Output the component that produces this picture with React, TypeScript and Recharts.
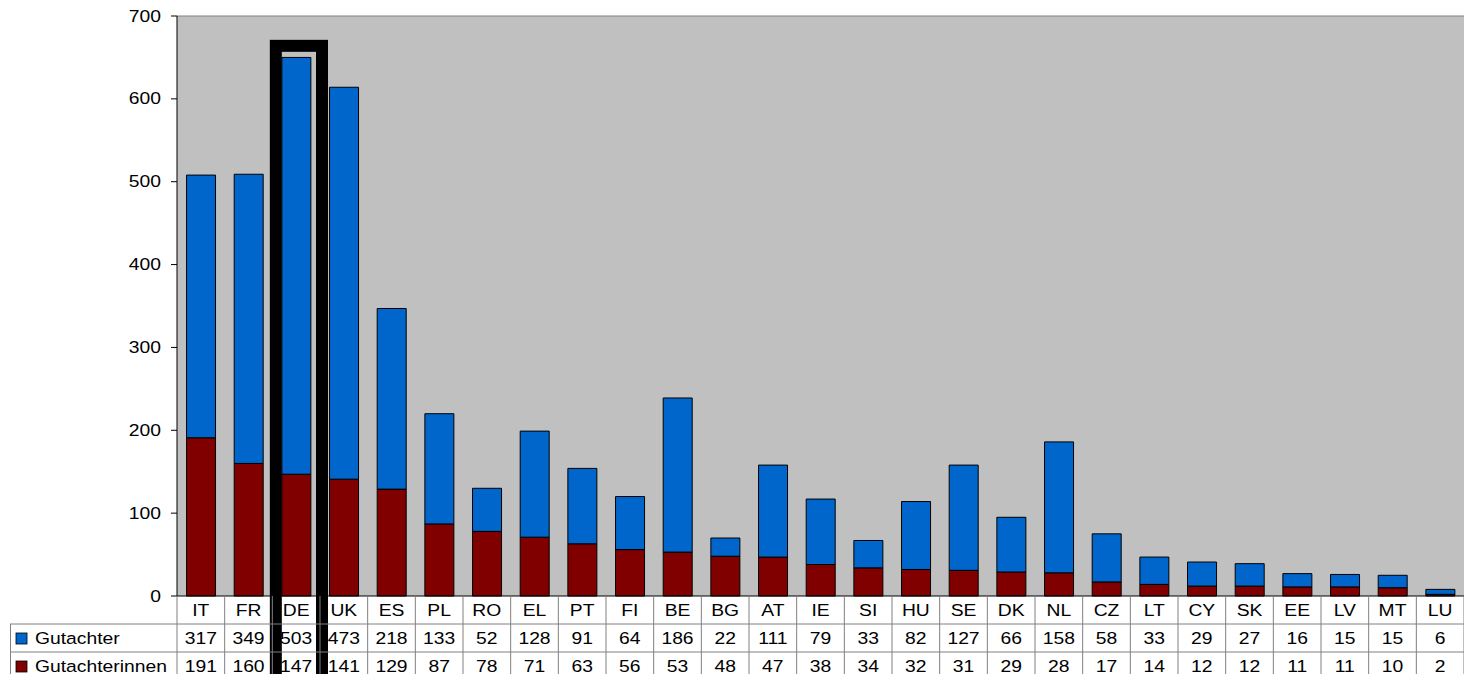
import { BarChart, Bar, XAxis, YAxis, CartesianGrid, ReferenceArea, ReferenceLine } from "recharts";

const countries = ["IT", "FR", "DE", "UK", "ES", "PL", "RO", "EL", "PT", "FI", "BE", "BG", "AT", "IE", "SI", "HU", "SE", "DK", "NL", "CZ", "LT", "CY", "SK", "EE", "LV", "MT", "LU"];
const gutachter = [317, 349, 503, 473, 218, 133, 52, 128, 91, 64, 186, 22, 111, 79, 33, 82, 127, 66, 158, 58, 33, 29, 27, 16, 15, 15, 6];
const gutachterinnen = [191, 160, 147, 141, 129, 87, 78, 71, 63, 56, 53, 48, 47, 38, 34, 32, 31, 29, 28, 17, 14, 12, 12, 11, 11, 10, 2];
const yTicks = [0, 100, 200, 300, 400, 500, 600, 700];

const W = 1464;
const H = 674;
const LEFT = 177;
const band = (W - LEFT) / countries.length;

const BLUE = "#0066CC";
const RED = "#800000";
const GRID = "#808080";
const FONT = "'Liberation Sans', Arial, sans-serif";

const data = countries.map((c, i) => ({
  name: c,
  gutachter: gutachter[i],
  gutachterinnen: gutachterinnen[i],
}));

// text in the original is a bit wider than it is tall
const Txt = ({ x, y, anchor = "middle", size = 16.5, children }: any) => (
  <text
    transform={`translate(${x},${y}) scale(1.17,1)`}
    textAnchor={anchor}
    dominantBaseline="central"
    fontFamily={FONT}
    fontSize={size}
    fill="#000"
  >
    {children}
  </text>
);

const YTick = ({ y, payload }: any) => (
  <Txt x={161} y={y} anchor="end">
    {payload.value}
  </Txt>
);

const TableTick = ({ x, y, payload }: any) => {
  const i = countries.indexOf(payload.value);
  const r1 = y + 28;
  const r2 = y + 56;
  return (
    <g>
      {i === 0 && (
        <g>
          <line x1={10} x2={W} y1={r1} y2={r1} stroke={GRID} />
          <line x1={10} x2={W} y1={r2} y2={r2} stroke={GRID} />
          <line x1={10.5} x2={10.5} y1={r1} y2={H} stroke={GRID} />
          <line x1={x - band / 2} x2={x - band / 2} y1={y} y2={H} stroke={GRID} />
          <rect x={16} y={r1 + 9} width={11} height={11} fill={BLUE} stroke="#000" strokeWidth={0.8} />
          <Txt x={35} y={r1 + 14} anchor="start">Gutachter</Txt>
          <rect x={16} y={r2 + 9} width={11} height={11} fill={RED} stroke="#000" strokeWidth={0.8} />
          <Txt x={35} y={r2 + 14} anchor="start">Gutachterinnen</Txt>
        </g>
      )}
      <line x1={x + band / 2} x2={x + band / 2} y1={y} y2={H} stroke={GRID} />
      <Txt x={x} y={y + 14}>{payload.value}</Txt>
      <Txt x={x} y={r1 + 14}>{gutachter[i]}</Txt>
      <Txt x={x} y={r2 + 14}>{gutachterinnen[i]}</Txt>
    </g>
  );
};

// the highlight frame sits slightly right of the DE band in the original
const Frame = ({ x, y, width, height }: any) => (
  <rect x={x + 3.5} y={y} width={width - 1.5} height={height} fill="none" stroke="#000" strokeWidth={12} />
);

const App = () => {
  return (
    <div style={{ position: "absolute", left: 0, top: 0, width: W, height: H, background: "#fff" }}>
      <BarChart
        width={W}
        height={H}
        data={data}
        margin={{ top: 16, right: 0, left: 0, bottom: 0 }}
        barCategoryGap="20%"
      >
        <CartesianGrid horizontal={false} vertical={false} fill="#C0C0C0" />
        <ReferenceLine y={700} stroke={GRID} />
        <XAxis
          dataKey="name"
          height={78}
          interval={0}
          tickLine={false}
          tickSize={0}
          tickMargin={0}
          axisLine={{ stroke: "#000" }}
          tick={<TableTick />}
        />
        <YAxis
          width={LEFT}
          domain={[0, 700]}
          ticks={yTicks}
          interval={0}
          tickSize={6}
          axisLine={{ stroke: "#000" }}
          tickLine={{ stroke: "#000" }}
          tick={<YTick />}
        />
        <Bar dataKey="gutachterinnen" stackId="a" fill={RED} stroke="#000" strokeWidth={1} isAnimationActive={false} />
        <Bar dataKey="gutachter" stackId="a" fill={BLUE} stroke="#000" strokeWidth={1} isAnimationActive={false} />
        <ReferenceArea
          x1="DE"
          x2="DE"
          y1={-120}
          y2={664}
          ifOverflow="visible"
          shape={<Frame />}
        />
      </BarChart>
    </div>
  );
};

export default App;
